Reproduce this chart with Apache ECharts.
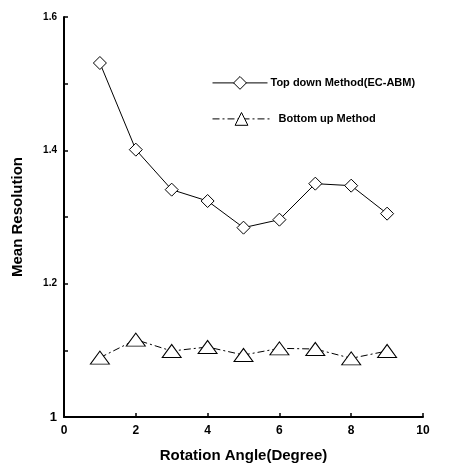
<!DOCTYPE html>
<html>
<head>
<meta charset="utf-8">
<script src="https://cdn.jsdelivr.net/npm/echarts@6/dist/echarts.min.js"></script>
<style>html,body{margin:0;padding:0;background:#fff;}#c{width:451px;height:468px;}</style>
</head>
<body>
<div id="c"></div>
<script>
const angles = [1, 2, 3, 4, 5, 6, 7, 8, 9];
const topDown = [1.531, 1.401, 1.341, 1.324, 1.284, 1.296, 1.350, 1.347, 1.305];
const bottomUp = [1.089, 1.116, 1.099, 1.105, 1.093, 1.103, 1.102, 1.088, 1.099];
const yTickLabels = {'1': '1', '1.2': '1.2', '1.4': '1.4', '1.6': '1.6'};
const xTickLabels = ['0', '2', '4', '6', '8', '10'];

const FONT = '"Liberation Sans", Arial, sans-serif';
const chart = echarts.init(document.getElementById('c'), null, {renderer: 'canvas'});
const legendCommon = {
  padding: 0, itemHeight: 16, itemGap: 0,
  lineStyle: {width: 1, color: '#000'},
  itemStyle: {color: '#fff', borderColor: '#000', borderWidth: 1}
};
chart.setOption({
  backgroundColor: '#fff',
  animation: false,
  grid: {left: 64, right: 28, top: 17, bottom: 48.5, containLabel: false},
  legend: [
    Object.assign({}, legendCommon, {
      data: ['Top down Method(EC-ABM)'],
      left: 212, top: 76, itemWidth: 55,
      textStyle: {fontFamily: FONT, fontWeight: 'bold', fontSize: 11, color: '#000', padding: [0, 0, 0, -2]}
    }),
    Object.assign({}, legendCommon, {
      data: ['Bottom up Method'],
      left: 212, top: 112, itemWidth: 58,
      lineStyle: {width: 1, color: '#000', type: [7, 3, 2, 3]},
      textStyle: {fontFamily: FONT, fontWeight: 'bold', fontSize: 11, color: '#000', padding: [0, 0, 0, 3]}
    })
  ],
  xAxis: {
    type: 'value', min: 0, max: 10, interval: 2,
    name: 'Rotation Angle(Degree)', nameLocation: 'middle', nameGap: 31,
    nameTextStyle: {fontFamily: FONT, fontWeight: 'bold', fontSize: 15, color: '#000'},
    axisLine: {show: true, onZero: false, lineStyle: {color: '#000', width: 2}},
    axisTick: {show: true, inside: true, length: 4, lineStyle: {color: '#000', width: 1.5}},
    axisLabel: {fontFamily: FONT, fontWeight: 'bold', fontSize: 12, color: '#000', margin: 8,
      formatter: v => xTickLabels[Math.round(v / 2)] || ''},
    splitLine: {show: false}
  },
  yAxis: {
    type: 'value', min: 1, max: 1.6, interval: 0.1,
    name: 'Mean Resolution', nameLocation: 'middle', nameGap: 39,
    nameTextStyle: {fontFamily: FONT, fontWeight: 'bold', fontSize: 15, color: '#000'},
    axisLine: {show: true, onZero: false, lineStyle: {color: '#000', width: 2}},
    axisTick: {show: true, inside: true, length: 4, lineStyle: {color: '#000', width: 1.5}},
    axisLabel: {fontFamily: FONT, fontWeight: 'bold', fontSize: 10, color: '#000', margin: 7,
      formatter: v => {
        const k = String(Math.round(v * 10) / 10);
        const t = yTickLabels[k];
        if (!t) return '';
        return k === '1' ? '{big|' + t + '}' : t;
      },
      rich: {big: {fontFamily: FONT, fontWeight: 'bold', fontSize: 13, color: '#000'}}
    },
    splitLine: {show: false}
  },
  series: [
    {
      name: 'Top down Method(EC-ABM)', type: 'line',
      data: angles.map((a, i) => [a, topDown[i]]),
      symbol: 'diamond', symbolSize: 13,
      lineStyle: {color: '#000', width: 1, type: 'solid'},
      itemStyle: {color: '#fff', borderColor: '#000', borderWidth: 1}
    },
    {
      name: 'Bottom up Method', type: 'line',
      data: angles.map((a, i) => [a, bottomUp[i]]),
      symbol: 'triangle', symbolSize: [19, 13],
      lineStyle: {color: '#000', width: 1, type: [7, 3, 2, 3]},
      itemStyle: {color: '#fff', borderColor: '#000', borderWidth: 1}
    }
  ]
});
</script>
</body>
</html>
